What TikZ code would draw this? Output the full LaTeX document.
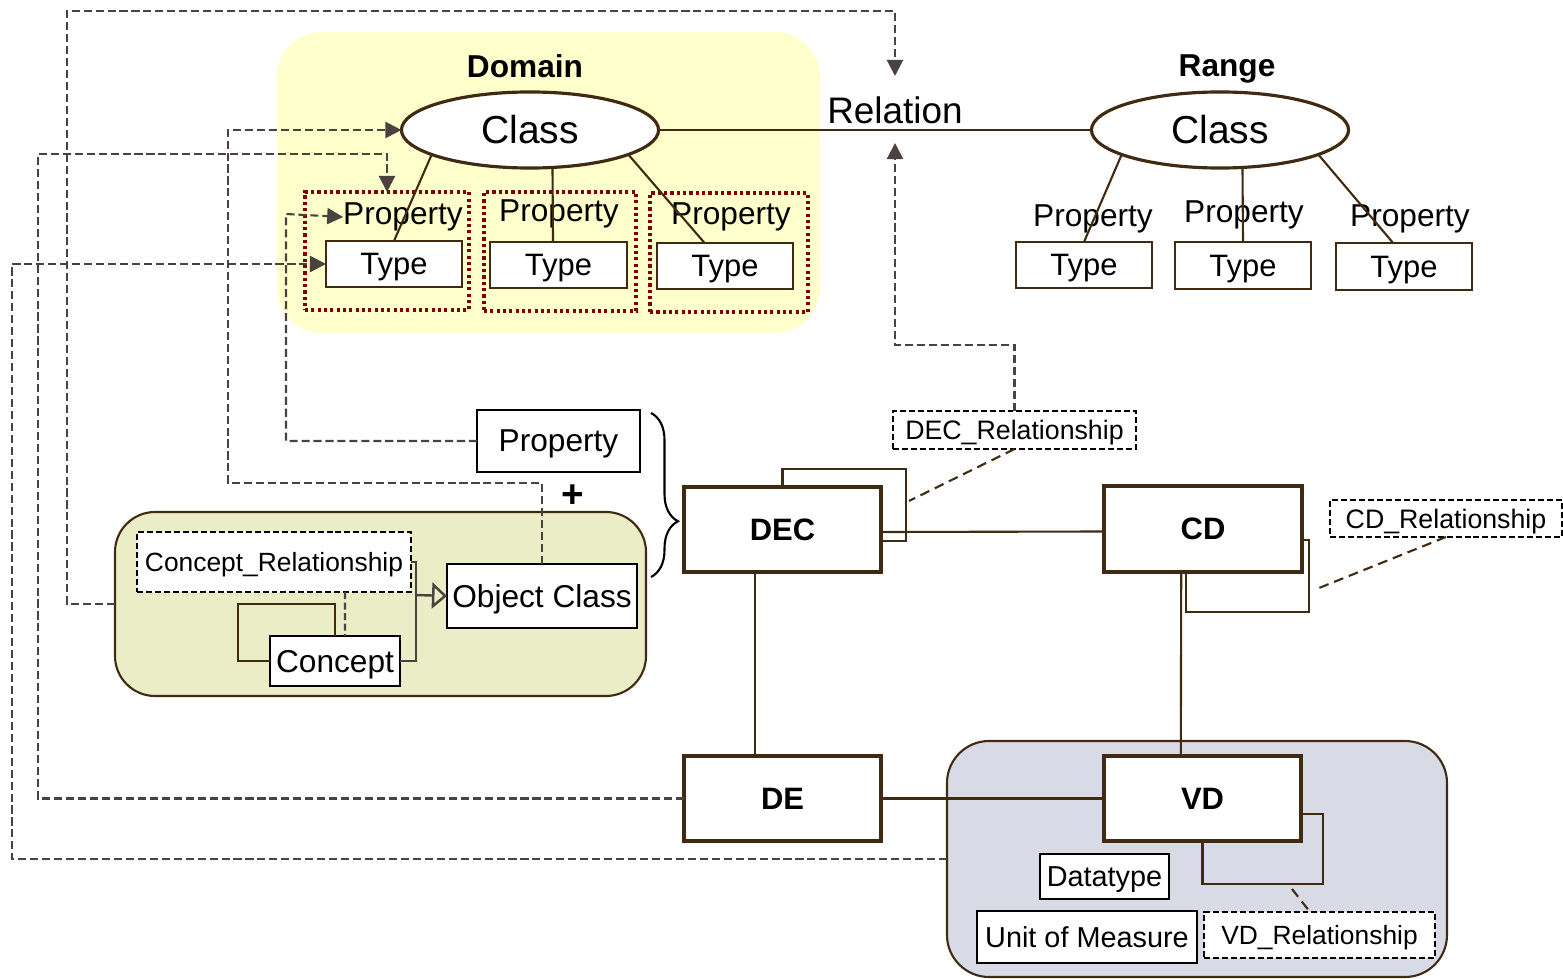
\documentclass[tikz,border=0pt]{standalone}
\usepackage{fontspec}
\setmainfont{Liberation Sans}
\usetikzlibrary{shapes.geometric,arrows.meta,calc,decorations.pathreplacing}

\definecolor{boxbrown}{RGB}{64,42,18}
\definecolor{linkgray}{RGB}{75,66,64}
\definecolor{groupred}{RGB}{128,0,0}
\definecolor{domainfill}{RGB}{255,255,204}
\definecolor{conceptfill}{RGB}{234,237,198}
\definecolor{valuefill}{RGB}{216,218,230}

\begin{document}
\begin{tikzpicture}[x=0.01cm, y=-0.01cm,
  every node/.style={inner sep=0pt, outer sep=0pt},
  % rectangle given by its corners (x1,y1) and (x2,y2)
  rect/.style n args={4}{rectangle, minimum width={(#3-#1)*0.01cm},
    minimum height={(#4-#2)*0.01cm}, at={({(#1+#3)/2},{(#2+#4)/2})}},
  fs/.style={font=\fontsize{#1}{#1}\selectfont},
  fsb/.style={font=\bfseries\fontsize{#1}{#1}\selectfont},
  cls/.style={ellipse, draw=boxbrown, line width=0.9pt, fill=white,
    minimum width=2.57cm, minimum height=0.76cm, fs=11.1},
  typebox/.style={draw=boxbrown, line width=0.6pt, fill=white, fs=8.8, text depth=0pt},
  proplbl/.style={fs=9},
  grp/.style={draw=groupred, line width=0.9pt, dash pattern=on 0.9pt off 0.9pt},
  mainbox/.style={draw=boxbrown, line width=1.2pt, fill=white, fsb=8.8, text depth=0pt},
  plainbox/.style={draw=black, line width=0.6pt, fill=white, text depth=0pt},
  relbox/.style={draw=black, line width=0.6pt, dash pattern=on 1.7pt off 0.85pt,
    fill=white, fs=7.6, text depth=0pt},
  link/.style={draw=boxbrown, line width=0.6pt},
  loopline/.style={draw=boxbrown, line width=0.6pt},
  genline/.style={draw=linkgray, line width=0.7pt},
  dlink/.style={draw=linkgray, line width=0.6pt, dash pattern=on 2.3pt off 1.1pt,
    -{Triangle[length=0.16cm,width=0.16cm]}},
  reldash/.style={draw=boxbrown, line width=0.6pt, dash pattern=on 2.8pt off 1.7pt},
]
\useasboundingbox (0,0) rectangle (1563,979);

% group backgrounds
\node[rect={277}{32}{820}{333}, fill=domainfill, rounded corners=0.45cm] (domainBg) {};
\node[rect={115}{512}{646}{696}, fill=conceptfill, draw=boxbrown, line width=0.6pt,
  rounded corners=0.4cm] (ocGroup) {};
\node[rect={947}{741}{1447}{977}, fill=valuefill, draw=boxbrown, line width=0.6pt,
  rounded corners=0.42cm] (vdGroup) {};

% domain / range
\node[fsb=9] (domainLbl) at (525,66) {Domain};
\node[fsb=9] (rangeLbl) at (1227,69) {Range};
\node[cls] (clsL) at (530,130) {Class};
\node[cls] (clsR) at (1220,130) {Class};
\node[fs=10.5] (relLbl) at (895,110) {Relation};
\coordinate (relTop) at (895,76);
\coordinate (relBot) at (895,143);

% property groups of the domain class
\node[grp, rect={305}{192}{469}{310}] (grp1) {};
\node[grp, rect={484}{192}{636}{311}] (grp2) {};
\node[grp, rect={650}{193}{808}{312}] (grp3) {};

\node[proplbl] (propL1) at (403,217) {Property};
\node[proplbl] (propL2) at (559,214) {Property};
\node[proplbl] (propL3) at (731,217) {Property};
\node[typebox, rect={326}{241}{462}{287}] (typeL1) {Type};
\node[typebox, rect={490}{242}{627}{288}] (typeL2) {Type};
\node[typebox, rect={657}{243}{793}{289}] (typeL3) {Type};

\node[proplbl] (propR1) at (1093,219) {Property};
\node[proplbl] (propR2) at (1244,215) {Property};
\node[proplbl] (propR3) at (1410,219) {Property};
\node[typebox, rect={1016}{242}{1152}{288}] (typeR1) {Type};
\node[typebox, rect={1175}{242}{1311}{289}] (typeR2) {Type};
\node[typebox, rect={1336}{243}{1472}{290}] (typeR3) {Type};

% property + object class
\node[plainbox, fs=9, rect={477}{410}{640}{472}] (propBox) {Property};
\node[fsb=11] (plus) at (573,496) {+};
\coordinate (braceTop) at (651,413);
\coordinate (braceBot) at (651,577);

\node[relbox, fs=7.5, rect={137}{532}{411}{592}] (crBox) {Concept\_Relationship};
\node[plainbox, fs=9, rect={447}{564}{637}{628}] (ocBox) {Object Class};
\node[plainbox, fs=9, rect={270}{636}{400}{686}] (conceptBox) {Concept};
\coordinate (genJoin) at (416,595);

% data element boxes
\node[mainbox, rect={684}{487}{881}{572}] (dec) {DEC};
\node[mainbox, rect={1104}{486}{1302}{572}] (cd) {CD};
\node[mainbox, rect={684}{756}{881}{841}] (de) {DE};
\node[mainbox, rect={1104}{756}{1301}{841}] (vd) {VD};

\node[relbox, rect={893}{411}{1136}{449}] (decRel) {DEC\_Relationship};
\node[relbox, rect={1330}{500}{1562}{537}] (cdRel) {CD\_Relationship};
\node[relbox, fs=7.5, rect={1204}{912}{1435}{958}] (vdRel) {VD\_Relationship};
\node[plainbox, fs=8.2, rect={1040}{854}{1169}{899}] (dtBox) {Datatype};
\node[plainbox, fs=8.2, rect={977}{911}{1197}{963}] (uomBox) {Unit of Measure};

\coordinate (decLoop) at (909,501);
\coordinate (cdLoop) at (1314,590);
\coordinate (vdLoop) at (1292,889);

% class -> property lines
\draw[link] (clsL.east) -- (clsR.west);
\draw[link] (clsL.194) -- (typeL1.north);
\draw[link] (clsL.301) -- ($(typeL2.north west)!0.46!(typeL2.north east)$);
\draw[link] (clsL.346) -- ($(typeL3.north west)!0.35!(typeL3.north east)$);
\draw[link] (clsR.194) -- (typeR1.north);
\draw[link] (clsR.301) -- (typeR2.north);
\draw[link] (clsR.346) -- ($(typeR3.north west)!0.42!(typeR3.north east)$);

% brace grouping property and object class
\draw[black, line width=0.6pt, decorate,
  decoration={brace, amplitude=0.27cm, aspect=0.66}] (braceTop) -- (braceBot);

% concept structure
\draw[loopline] (conceptBox.west) -| (238,604) -| (conceptBox.north);
\draw[genline] (conceptBox.east) -| (416,562) -- (crBox.east);
\draw[genline, -{Triangle[open, length=0.15cm, width=0.26cm]}] (genJoin) -- (ocBox.west);
\draw[linkgray, line width=0.6pt, dash pattern=on 2pt off 1pt]
  ([xshift=0.71cm]crBox.south) -- ([xshift=0.1cm]conceptBox.north);

% solid relations between data elements
\draw[link] ([yshift=-0.025cm]dec.east) -- ([yshift=-0.025cm]cd.west);
\draw[link] ($(dec.south west)!0.36!(dec.south east)$) -- ($(de.north west)!0.36!(de.north east)$);
\draw[link] ($(cd.south west)!0.39!(cd.south east)$) -- ($(vd.north west)!0.39!(vd.north east)$);
\draw[link] (de.east) -- (vd.west);

% self relationships
\draw[loopline] (dec.north) |- (906,469) |- ([yshift=-0.115cm]dec.east);
\draw[loopline] ([yshift=-0.11cm]cd.east) -| (1309,612) -| ([xshift=-0.17cm]cd.south);
\draw[loopline] ([yshift=-0.155cm]vd.east) -| (1323,884) -| (vd.south);
\draw[reldash] (decRel.south) -- (decLoop);
\draw[reldash] (cdRel.south) -- (cdLoop);
\draw[reldash] (vdLoop) -- ([xshift=-0.095cm]vdRel.north);

% mappings to the ontology
\draw[dlink] (ocGroup.west) -| (67,11) -| (relTop);
\draw[dlink] (decRel.north) |- (895,345) -- (relBot);
\draw[dlink] (ocBox.north) |- (228,483) |- (clsL.west);
\draw[dlink] (propBox.west) -| (286,214) -- (propL1.west);
\draw[dlink] (de.west) -| (38,154) -| (grp1.north);
\draw[dlink] (vdGroup.west) -| (12,265) |- (typeL1.west);
\end{tikzpicture}
\end{document}
